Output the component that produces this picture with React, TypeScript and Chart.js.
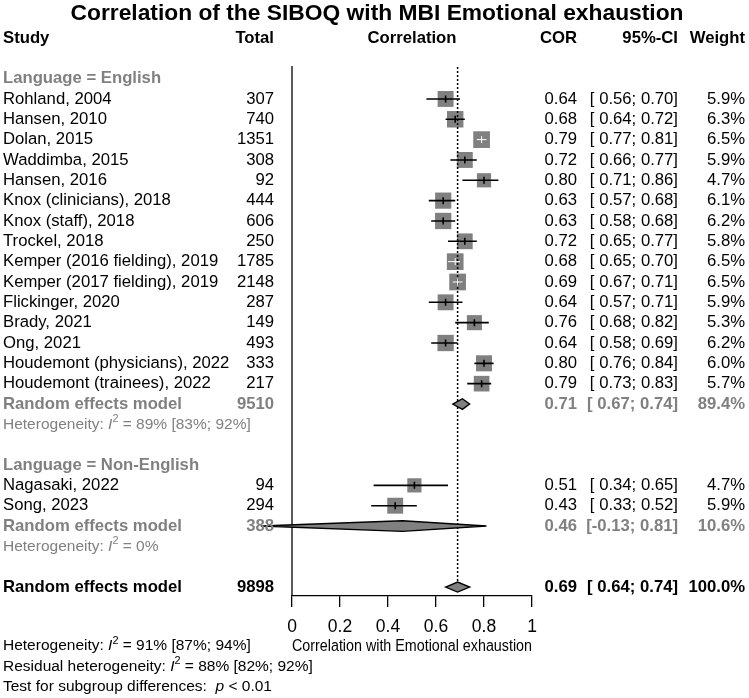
import React, { useEffect, useRef } from 'react';
import { Chart, registerables } from 'chart.js';
Chart.register(...registerables);

const chartTitle = 'Correlation of the SIBOQ with MBI Emotional exhaustion';
const xAxisTitle = 'Correlation with Emotional exhaustion';
const xTicks = [0, 0.2, 0.4, 0.6, 0.8, 1];

const studies = [
  'Rohland, 2004', 'Hansen, 2010', 'Dolan, 2015', 'Waddimba, 2015', 'Hansen, 2016',
  'Knox (clinicians), 2018', 'Knox (staff), 2018', 'Trockel, 2018',
  'Kemper (2016 fielding), 2019', 'Kemper (2017 fielding), 2019', 'Flickinger, 2020',
  'Brady, 2021', 'Ong, 2021', 'Houdemont (physicians), 2022', 'Houdemont (trainees), 2022',
  'Nagasaki, 2022', 'Song, 2023',
];
const studyGroup = [0, 0, 0, 0, 0, 0, 0, 0, 0, 0, 0, 0, 0, 0, 0, 1, 1];
const totals = [307, 740, 1351, 308, 92, 444, 606, 250, 1785, 2148, 287, 149, 493, 333, 217, 94, 294];
const cor = [0.64, 0.68, 0.79, 0.72, 0.80, 0.63, 0.63, 0.72, 0.68, 0.69, 0.64, 0.76, 0.64, 0.80, 0.79, 0.51, 0.43];
const lower = [0.56, 0.64, 0.77, 0.66, 0.71, 0.57, 0.58, 0.65, 0.65, 0.67, 0.57, 0.68, 0.58, 0.76, 0.73, 0.34, 0.33];
const upper = [0.70, 0.72, 0.81, 0.77, 0.86, 0.68, 0.68, 0.77, 0.70, 0.71, 0.71, 0.82, 0.69, 0.84, 0.83, 0.65, 0.52];
const weights = [5.9, 6.3, 6.5, 5.9, 4.7, 6.1, 6.2, 5.8, 6.5, 6.5, 5.9, 5.3, 6.2, 6.0, 5.7, 4.7, 5.9];

const groupNames = ['Language = English', 'Language = Non-English'];
const groupTotals = [9510, 388];
const groupCor = [0.71, 0.46];
const groupLower = [0.67, -0.13];
const groupUpper = [0.74, 0.81];
const groupWeights = [89.4, 10.6];
const groupHet = ['= 89% [83%; 92%]', '= 0%'];

const overallTotal = 9898;
const overallCor = 0.69;
const overallLower = 0.64;
const overallUpper = 0.74;
const overallWeight = 100.0;
const overallHet = '= 91% [87%; 94%]';
const residualHet = '= 88% [82%; 92%]';
const subgroupTest = '< 0.01';

const FONT = "'Liberation Sans', Arial, sans-serif";
const FS = 16.7;
const GRAY = '#808080';

function fmtCI(l: number, u: number) {
  const a = l < 0 ? l.toFixed(2) : ' ' + l.toFixed(2);
  return '[' + a + '; ' + u.toFixed(2) + ']';
}

export default function App() {
  const ref = useRef<HTMLCanvasElement>(null);
  useEffect(() => {
    const canvas = ref.current!;
    const studyRow: number[] = [];
    const groupHeaderRow: number[] = [];
    const groupRemRow: number[] = [];
    const groupHetRow: number[] = [];
    let r = 0;
    groupNames.forEach((_, g) => {
      groupHeaderRow.push(r); r++;
      studies.forEach((_, i) => { if (studyGroup[i] === g) { studyRow[i] = r; r++; } });
      groupRemRow.push(r); r++;
      groupHetRow.push(r); r++;
      r++;
    });
    const overallRow = r;

    const sq = (w: number) => 6.55 * Math.sqrt(w);

    const forestPlugin = {
      id: 'forest',
      afterDatasetsDraw(chart: any) {
        const ctx = chart.ctx as CanvasRenderingContext2D;
        const xs = chart.scales.x;
        const ys = chart.scales.y;
        const ca = chart.chartArea;
        const X = (v: number) => xs.getPixelForValue(v);
        const Y = (v: number) => ys.getPixelForValue(v);
        ctx.save();
        ctx.strokeStyle = '#000';
        ctx.lineWidth = 1.3;
        ctx.beginPath();
        ctx.moveTo(X(0), ca.top);
        ctx.lineTo(X(0), ca.bottom);
        ctx.stroke();
        ctx.setLineDash([2, 2]);
        ctx.lineWidth = 1.5;
        ctx.beginPath();
        ctx.moveTo(X(overallCor), ca.top + 1);
        ctx.lineTo(X(overallCor), Y(overallRow) - 5);
        ctx.stroke();
        ctx.setLineDash([]);

        studies.forEach((_, i) => {
          const y = Y(studyRow[i]);
          const x1 = X(lower[i]), x2 = X(upper[i]);
          const inside = (x2 - x1) < sq(weights[i]);
          ctx.strokeStyle = inside ? '#ffffff' : '#000000';
          ctx.lineWidth = inside ? 1 : 1.6;
          ctx.beginPath();
          ctx.moveTo(x1, y); ctx.lineTo(x2, y);
          ctx.moveTo(X(cor[i]), y - 3.5); ctx.lineTo(X(cor[i]), y + 3.5);
          ctx.stroke();
        });

        const diamond = (c: number, l: number, u: number, row: number, h: number) => {
          const y = Y(row);
          ctx.beginPath();
          ctx.moveTo(X(l), y);
          ctx.lineTo(X(c), y - h);
          ctx.lineTo(X(u), y);
          ctx.lineTo(X(c), y + h);
          ctx.closePath();
          ctx.fillStyle = GRAY;
          ctx.fill();
          ctx.strokeStyle = '#000';
          ctx.lineWidth = 1.4;
          ctx.stroke();
        };
        groupNames.forEach((_, g) => diamond(groupCor[g], groupLower[g], groupUpper[g], groupRemRow[g], 5.3));
        diamond(overallCor, overallLower, overallUpper, overallRow, 5);

        const reg = `${FS}px ${FONT}`;
        const bold = `bold ${FS}px ${FONT}`;
        const txt = (s: string, x: number, y: number, font: string, color: string, align: CanvasTextAlign) => {
          ctx.font = font; ctx.fillStyle = color; ctx.textAlign = align; ctx.textBaseline = 'middle';
          ctx.fillText(s, x, y);
        };
        const rich = (parts: { t: string; f: string; dy?: number }[], x: number, y: number, color: string) => {
          let cx = x;
          ctx.fillStyle = color; ctx.textAlign = 'left'; ctx.textBaseline = 'middle';
          parts.forEach(p => {
            ctx.font = p.f;
            ctx.fillText(p.t, cx, y + (p.dy || 0));
            cx += ctx.measureText(p.t).width;
          });
        };
        const hs = 15.5;
        const hReg = `${hs}px ${FONT}`;
        const hIt = `italic ${hs}px ${FONT}`;
        const hSup = `${hs * 0.7}px ${FONT}`;
        const hetParts = (label: string, val: string) => [
          { t: label, f: hReg }, { t: 'I', f: hIt }, { t: '2', f: hSup, dy: -5 }, { t: ' ' + val, f: hReg },
        ];

        const colTotal = 274, colCor = 577, colCI = 678, colW = 745, colStudy = 3;

        txt(chartTitle, 377, 14, `bold 22.8px ${FONT}`, '#000', 'center');
        const hy = Y(-2);
        txt('Study', colStudy, hy, bold, '#000', 'left');
        txt('Total', colTotal, hy, bold, '#000', 'right');
        txt('Correlation', (ca.left + ca.right) / 2, hy, bold, '#000', 'center');
        txt('COR', colCor, hy, bold, '#000', 'right');
        txt('95%-CI', colCI, hy, bold, '#000', 'right');
        txt('Weight', colW, hy, bold, '#000', 'right');

        studies.forEach((s, i) => {
          const y = Y(studyRow[i]);
          txt(s, colStudy, y, reg, '#000', 'left');
          txt(String(totals[i]), colTotal, y, reg, '#000', 'right');
          txt(cor[i].toFixed(2), colCor, y, reg, '#000', 'right');
          txt(fmtCI(lower[i], upper[i]), colCI, y, reg, '#000', 'right');
          txt(weights[i].toFixed(1) + '%', colW, y, reg, '#000', 'right');
        });
        groupNames.forEach((gname, g) => {
          txt(gname, colStudy, Y(groupHeaderRow[g]), bold, GRAY, 'left');
          const y = Y(groupRemRow[g]);
          txt('Random effects model', colStudy, y, bold, GRAY, 'left');
          txt(String(groupTotals[g]), colTotal, y, bold, GRAY, 'right');
          txt(groupCor[g].toFixed(2), colCor, y, bold, GRAY, 'right');
          txt(fmtCI(groupLower[g], groupUpper[g]), colCI, y, bold, GRAY, 'right');
          txt(groupWeights[g].toFixed(1) + '%', colW, y, bold, GRAY, 'right');
          rich(hetParts('Heterogeneity: ', groupHet[g]), colStudy, Y(groupHetRow[g]), GRAY);
        });
        const oy = Y(overallRow);
        txt('Random effects model', colStudy, oy, bold, '#000', 'left');
        txt(String(overallTotal), colTotal, oy, bold, '#000', 'right');
        txt(overallCor.toFixed(2), colCor, oy, bold, '#000', 'right');
        txt(fmtCI(overallLower, overallUpper), colCI, oy, bold, '#000', 'right');
        txt(overallWeight.toFixed(1) + '%', colW, oy, bold, '#000', 'right');

        rich(hetParts('Heterogeneity: ', overallHet), colStudy, Y(overallRow + 2.9), '#000');
        rich(hetParts('Residual heterogeneity: ', residualHet), colStudy, Y(overallRow + 3.9), '#000');
        rich([{ t: 'Test for subgroup differences:  ', f: hReg }, { t: 'p', f: hIt }, { t: ' ' + subgroupTest, f: hReg }], colStudy, Y(overallRow + 4.9), '#000');
        ctx.restore();
      },
    };

    const points = studies.map((_, i) => ({ x: cor[i], y: studyRow[i] }));
    const radii = weights.map(w => sq(w) / Math.SQRT2);

    const chart = new Chart(canvas, {
      type: 'scatter',
      data: {
        datasets: [{
          data: points,
          pointStyle: 'rect',
          pointRadius: radii,
          pointHoverRadius: radii,
          backgroundColor: GRAY,
          borderWidth: 0,
        }],
      },
      options: {
        responsive: false,
        animation: false,
        devicePixelRatio: 1,
        layout: { padding: { left: 292, right: 217, top: 66, bottom: 0 } },
        plugins: { legend: { display: false }, tooltip: { enabled: false }, title: { display: false } },
        scales: {
          x: {
            type: 'linear',
            min: 0,
            max: 1,
            afterFit: (s: any) => { s.height = 102; },
            afterBuildTicks: (s: any) => { s.ticks = xTicks.map(v => ({ value: v })); },
            border: { display: true, color: '#000', width: 1.3 },
            grid: { drawOnChartArea: false, drawTicks: true, tickLength: 11, color: '#000', lineWidth: 1.3 },
            ticks: {
              color: '#000',
              padding: 10,
              maxRotation: 0,
              font: { family: FONT, size: 17.5 },
              callback: (v: any) => String(Number(v)),
            },
            title: {
              display: true,
              text: xAxisTitle,
              color: '#000',
              font: { family: FONT, size: FS },
              padding: { top: 0, bottom: 42 },
            },
          },
          y: {
            type: 'linear',
            display: false,
            min: -0.62,
            max: 25.44,
            reverse: true,
          },
        },
      },
      plugins: [forestPlugin],
    });
    return () => chart.destroy();
  }, []);
  return (
    <canvas ref={ref} width={749} height={698} style={{ position: 'absolute', left: 0, top: 0, width: 749, height: 698 }} />
  );
}
